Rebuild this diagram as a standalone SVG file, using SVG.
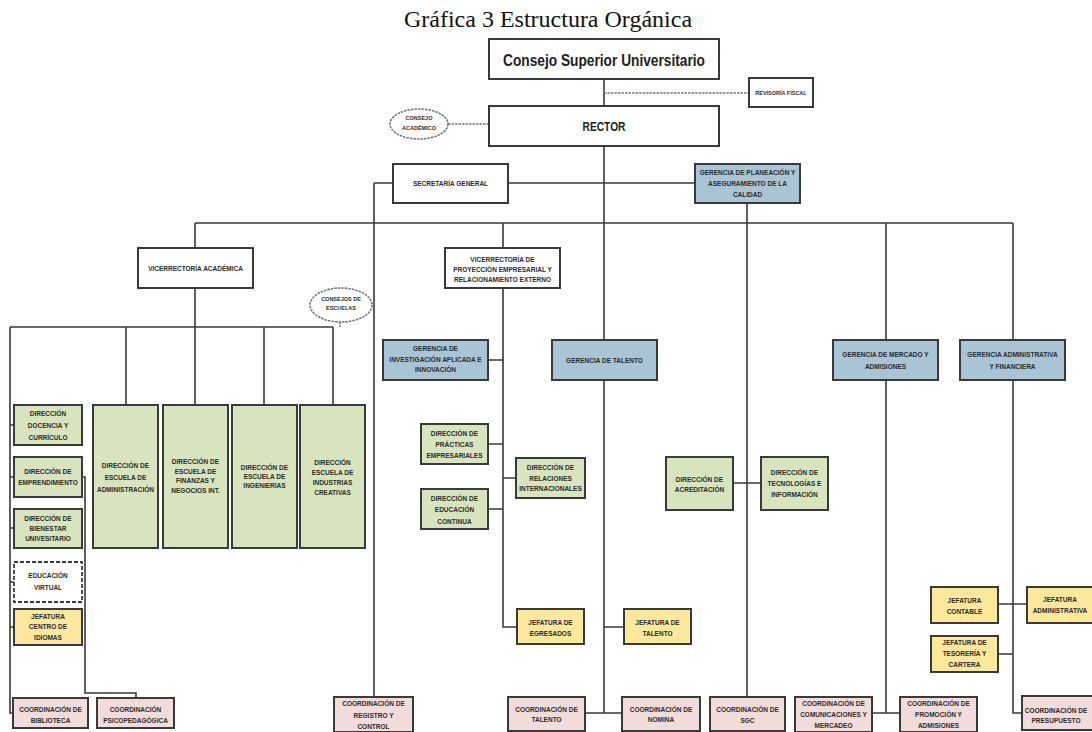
<svg xmlns="http://www.w3.org/2000/svg" width="1092" height="732" viewBox="0 0 1092 732">
<style>
.bx{stroke:#3a3a3a;stroke-width:2}
.w{fill:#ffffff}.g{fill:#d7e4bd}.bl{fill:#a9c4d4}.y{fill:#fde89c}.p{fill:#f2dcdb}
.t{font-family:"Liberation Sans",Arial,sans-serif;font-weight:bold;font-size:6.5px;fill:#2b2b2b;text-anchor:middle}
.s{font-size:5.5px}
.c{stroke:#3a3a3a;stroke-width:1.6;fill:none}
.cd{stroke:#777;stroke-width:1.6;fill:none;stroke-dasharray:2.5 1}
</style>
<rect width="1092" height="732" fill="#ffffff"/>
<text x="548" y="27" font-family="'Liberation Serif','Times New Roman',serif" font-size="24" fill="#111" text-anchor="middle">Gráfica 3 Estructura Orgánica</text>

<g id="connectors">
<path class="c" d="M604,79V106M604,146V713M585,713H622M604,627H624"/>
<path class="cd" d="M604,93H749M448,124H489M340,322V327"/>
<path class="c" d="M374,183H393M508,183H695M374,183V697M747,203V697"/>
<path class="c" d="M195,223H1013M195,223V248M195,288V327"/>
<path class="c" d="M10,327H333M10,327V713H13M126,327V405M264,327V405M333,327V405M195,327V405"/>
<path class="c" d="M10,425H14M10,477H14M10,528H14M10,582H14M10,627H14M82,477H85V693H136V698"/>
<path class="c" d="M503,223V248M503,288V627H517M488,360H503M488,444H503M503,478H516M488,509H503"/>
<path class="c" d="M733,483H761M886,223V340M886,380V713M872,713H900M1013,223V340M1013,380V713H1022M998,604H1027M998,654H1013"/>
</g>

<g id="consejo-superior"><rect class="bx w" x="489" y="39" width="230" height="40"/>
<text x="604" y="66" font-family="'Liberation Sans',Arial,sans-serif" font-weight="bold" font-size="17" fill="#222" text-anchor="middle" textLength="202" lengthAdjust="spacingAndGlyphs">Consejo Superior Universitario</text></g>

<g id="revisoria"><rect class="bx w" x="749" y="78" width="64" height="29"/>
<text class="t s" x="781" y="95">REVISORÍA FISCAL</text></g>

<g id="rector"><rect class="bx w" x="489" y="106" width="230" height="40"/>
<text x="604" y="131" font-family="'Liberation Sans',Arial,sans-serif" font-weight="bold" font-size="12" fill="#222" text-anchor="middle" textLength="43" lengthAdjust="spacingAndGlyphs">RECTOR</text></g>

<g id="consejo-academico"><ellipse cx="419" cy="124" rx="29" ry="15" fill="#fff" class="cd"/>
<text class="t s"><tspan x="419" y="120">CONSEJO</tspan><tspan x="419" y="130">ACADÉMICO</tspan></text></g>

<g id="secretaria"><rect class="bx w" x="393" y="164" width="115" height="39"/>
<text class="t" x="450.5" y="186">SECRETARÍA GENERAL</text></g>

<g id="gerencia-planeacion"><rect class="bx bl" x="695" y="164" width="105" height="39"/>
<text class="t"><tspan x="747.5" y="174.5">GERENCIA DE PLANEACIÓN Y</tspan><tspan x="747.5" y="185.5">ASEGURAMIENTO DE LA</tspan><tspan x="747.5" y="196.5">CALIDAD</tspan></text></g>

<g id="vicerrectoria-academica"><rect class="bx w" x="138" y="248" width="115" height="40"/>
<text class="t" x="195.5" y="270.5">VICERRECTORÍA ACADÉMICA</text></g>

<g id="vicerrectoria-proyeccion"><rect class="bx w" x="445" y="248" width="115" height="40"/>
<text class="t"><tspan x="502.5" y="261.5">VICERRECTORÍA DE</tspan><tspan x="502.5" y="271.5">PROYECCIÓN EMPRESARIAL Y</tspan><tspan x="502.5" y="281.5">RELACIONAMIENTO EXTERNO</tspan></text></g>

<g id="consejos-escuelas"><ellipse cx="341" cy="305" rx="31" ry="17" fill="#fff" class="cd"/>
<text class="t s"><tspan x="341" y="301">CONSEJOS DE</tspan><tspan x="341" y="310">ESCUELAS</tspan></text></g>

<g id="gerencia-investigacion"><rect class="bx bl" x="383" y="340" width="105" height="40"/>
<text class="t"><tspan x="435.5" y="351">GERENCIA DE</tspan><tspan x="435.5" y="361.5">INVESTIGACIÓN APLICADA E</tspan><tspan x="435.5" y="372">INNOVACIÓN</tspan></text></g>

<g id="gerencia-talento"><rect class="bx bl" x="552" y="340" width="105" height="40"/>
<text class="t" x="604.5" y="362.5">GERENCIA DE TALENTO</text></g>

<g id="gerencia-mercado"><rect class="bx bl" x="833" y="340" width="105" height="40"/>
<text class="t"><tspan x="885.5" y="356.5">GERENCIA DE MERCADO Y</tspan><tspan x="885.5" y="368.5">ADMISIONES</tspan></text></g>

<g id="gerencia-administrativa"><rect class="bx bl" x="960" y="340" width="105" height="40"/>
<text class="t"><tspan x="1012.5" y="356.5">GERENCIA ADMINISTRATIVA</tspan><tspan x="1012.5" y="368.5">Y FINANCIERA</tspan></text></g>

<g id="dir-docencia"><rect class="bx g" x="14" y="405" width="68" height="40"/>
<text class="t"><tspan x="48" y="415.5">DIRECCIÓN</tspan><tspan x="48" y="427.5">DOCENCIA Y</tspan><tspan x="48" y="439.5">CURRÍCULO</tspan></text></g>

<g id="dir-emprendimiento"><rect class="bx g" x="14" y="457" width="68" height="40"/>
<text class="t"><tspan x="48" y="474">DIRECCIÓN DE</tspan><tspan x="48" y="485">EMPRENDIMIENTO</tspan></text></g>

<g id="dir-bienestar"><rect class="bx g" x="14" y="509" width="68" height="39"/>
<text class="t"><tspan x="48" y="520.5">DIRECCIÓN DE</tspan><tspan x="48" y="530.5">BIENESTAR</tspan><tspan x="48" y="540.5">UNIVESITARIO</tspan></text></g>

<g id="educacion-virtual"><rect x="14" y="562" width="68" height="40" fill="#fff" stroke="#3a3a3a" stroke-width="1.8" stroke-dasharray="4 2"/>
<text class="t"><tspan x="48" y="577.5">EDUCACIÓN</tspan><tspan x="48" y="589.5">VIRTUAL</tspan></text></g>

<g id="jef-idiomas"><rect class="bx y" x="14" y="609" width="68" height="36"/>
<text class="t"><tspan x="48" y="618.5">JEFATURA</tspan><tspan x="48" y="628.5">CENTRO DE</tspan><tspan x="48" y="639.5">IDIOMAS</tspan></text></g>

<g id="coord-biblioteca"><rect class="bx p" x="13" y="698" width="75" height="30"/>
<text class="t"><tspan x="50.5" y="711.5">COORDINACIÓN DE</tspan><tspan x="50.5" y="722.5">BIBLIOTECA</tspan></text></g>

<g id="coord-psicopedagogica"><rect class="bx p" x="97" y="698" width="77" height="30"/>
<text class="t"><tspan x="135.5" y="711.5">COORDINACIÓN</tspan><tspan x="135.5" y="722.5">PSICOPEDAGÓGICA</tspan></text></g>

<g id="dir-esc-administracion"><rect class="bx g" x="93" y="405" width="65" height="143"/>
<text class="t"><tspan x="125.5" y="467.5">DIRECCIÓN DE</tspan><tspan x="125.5" y="479.5">ESCUELA DE</tspan><tspan x="125.5" y="491.5">ADMINISTRACIÓN</tspan></text></g>

<g id="dir-esc-finanzas"><rect class="bx g" x="163" y="405" width="65" height="143"/>
<text class="t"><tspan x="195.5" y="464">DIRECCIÓN DE</tspan><tspan x="195.5" y="473.5">ESCUELA DE</tspan><tspan x="195.5" y="483">FINANZAS Y</tspan><tspan x="195.5" y="492.5">NEGOCIOS INT.</tspan></text></g>

<g id="dir-esc-ingenierias"><rect class="bx g" x="232" y="405" width="65" height="143"/>
<text class="t"><tspan x="264.5" y="469.5">DIRECCIÓN DE</tspan><tspan x="264.5" y="478.5">ESCUELA DE</tspan><tspan x="264.5" y="487.5">INGENIERIAS</tspan></text></g>

<g id="dir-esc-industrias"><rect class="bx g" x="300" y="405" width="65" height="143"/>
<text class="t"><tspan x="332.5" y="464.5">DIRECCIÓN</tspan><tspan x="332.5" y="474.5">ESCUELA DE</tspan><tspan x="332.5" y="484.5">INDUSTRIAS</tspan><tspan x="332.5" y="495">CREATIVAS</tspan></text></g>

<g id="coord-registro"><rect class="bx p" x="334" y="697" width="79" height="35"/>
<text class="t"><tspan x="373.5" y="705.5">COORDINACIÓN DE</tspan><tspan x="373.5" y="717.5">REGISTRO Y</tspan><tspan x="373.5" y="728.5">CONTROL</tspan></text></g>

<g id="dir-practicas"><rect class="bx g" x="421" y="424" width="67" height="40"/>
<text class="t"><tspan x="454.5" y="435.5">DIRECCIÓN DE</tspan><tspan x="454.5" y="446.5">PRÁCTICAS</tspan><tspan x="454.5" y="458">EMPRESARIALES</tspan></text></g>

<g id="dir-relaciones"><rect class="bx g" x="516" y="458" width="69" height="40"/>
<text class="t"><tspan x="550.5" y="469.5">DIRECCIÓN DE</tspan><tspan x="550.5" y="480.5">RELACIONES</tspan><tspan x="550.5" y="490.5">INTERNACIONALES</tspan></text></g>

<g id="dir-educacion-continua"><rect class="bx g" x="421" y="489" width="67" height="40"/>
<text class="t"><tspan x="454.5" y="500.5">DIRECCIÓN DE</tspan><tspan x="454.5" y="512">EDUCACIÓN</tspan><tspan x="454.5" y="524">CONTINUA</tspan></text></g>

<g id="jef-egresados"><rect class="bx y" x="517" y="609" width="67" height="35"/>
<text class="t"><tspan x="550.5" y="624.5">JEFATURA DE</tspan><tspan x="550.5" y="635.5">EGRESADOS</tspan></text></g>

<g id="jef-talento"><rect class="bx y" x="624" y="609" width="67" height="35"/>
<text class="t"><tspan x="657.5" y="624.5">JEFATURA DE</tspan><tspan x="657.5" y="635.5">TALENTO</tspan></text></g>

<g id="coord-talento"><rect class="bx p" x="508" y="697" width="77" height="34"/>
<text class="t"><tspan x="546.5" y="711.5">COORDINACIÓN DE</tspan><tspan x="546.5" y="721.5">TALENTO</tspan></text></g>

<g id="coord-nomina"><rect class="bx p" x="622" y="697" width="78" height="34"/>
<text class="t"><tspan x="661" y="711.5">COORDINACIÓN DE</tspan><tspan x="661" y="721.5">NOMINA</tspan></text></g>

<g id="dir-acreditacion"><rect class="bx g" x="666" y="457" width="67" height="53"/>
<text class="t"><tspan x="699.5" y="481.5">DIRECCIÓN DE</tspan><tspan x="699.5" y="491.5">ACREDITACIÓN</tspan></text></g>

<g id="dir-tecnologias"><rect class="bx g" x="761" y="457" width="67" height="53"/>
<text class="t"><tspan x="794.5" y="474.5">DIRECCIÓN DE</tspan><tspan x="794.5" y="485.5">TECNOLOGÍAS E</tspan><tspan x="794.5" y="496.5">INFORMACIÓN</tspan></text></g>

<g id="coord-sgc"><rect class="bx p" x="710" y="697" width="75" height="34"/>
<text class="t"><tspan x="747.5" y="711.5">COORDINACIÓN DE</tspan><tspan x="747.5" y="722.5">SGC</tspan></text></g>

<g id="coord-comunicaciones"><rect class="bx p" x="795" y="697" width="77" height="35"/>
<text class="t"><tspan x="833.5" y="705.5">COORDINACIÓN DE</tspan><tspan x="833.5" y="716.5">COMUNICACIONES Y</tspan><tspan x="833.5" y="728">MERCADEO</tspan></text></g>

<g id="coord-promocion"><rect class="bx p" x="900" y="697" width="77" height="35"/>
<text class="t"><tspan x="938.5" y="705.5">COORDINACIÓN DE</tspan><tspan x="938.5" y="716.5">PROMOCIÓN Y</tspan><tspan x="938.5" y="728">ADMISIONES</tspan></text></g>

<g id="jef-contable"><rect class="bx y" x="931" y="587" width="67" height="36"/>
<text class="t"><tspan x="964.5" y="602.5">JEFATURA</tspan><tspan x="964.5" y="613.5">CONTABLE</tspan></text></g>

<g id="jef-administrativa"><rect class="bx y" x="1027" y="587" width="75" height="36"/>
<text class="t"><tspan x="1060" y="602">JEFATURA</tspan><tspan x="1060" y="612.5">ADMINISTRATIVA</tspan></text></g>

<g id="jef-tesoreria"><rect class="bx y" x="931" y="636" width="67" height="36"/>
<text class="t"><tspan x="964.5" y="644.5">JEFATURA DE</tspan><tspan x="964.5" y="655.5">TESORERÍA Y</tspan><tspan x="964.5" y="667">CARTERA</tspan></text></g>

<g id="coord-presupuesto"><rect class="bx p" x="1022" y="696" width="84" height="34"/>
<text class="t"><tspan x="1056" y="713">COORDINACIÓN DE</tspan><tspan x="1056" y="723">PRESUPUESTO</tspan></text></g>
</svg>
